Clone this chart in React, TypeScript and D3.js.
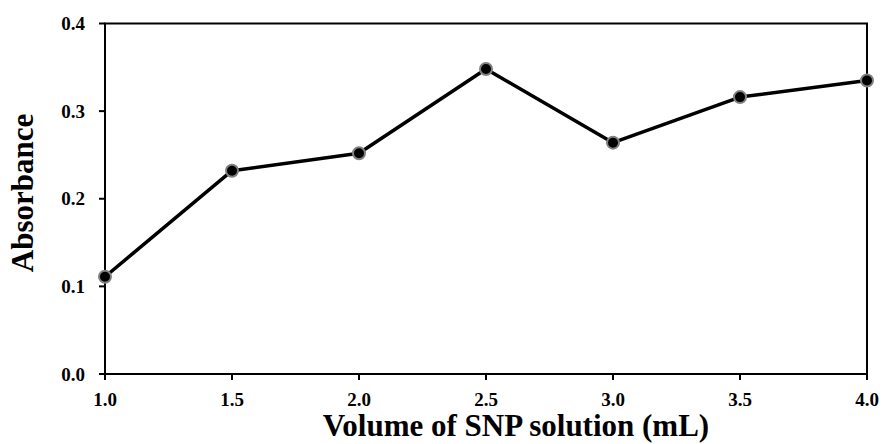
import React from "react";
import * as d3 from "d3";

const volumes = [1.0, 1.5, 2.0, 2.5, 3.0, 3.5, 4.0];
const absorbance = [0.111, 0.232, 0.252, 0.348, 0.264, 0.316, 0.335];
const xTicks = [1.0, 1.5, 2.0, 2.5, 3.0, 3.5, 4.0];
const yTicks = [0.0, 0.1, 0.2, 0.3, 0.4];

const W = 882;
const H = 444;
const M = { left: 105, right: 15, top: 23.5, bottom: 70 };

export default function App() {
  const x = d3.scaleLinear().domain([1, 4]).range([M.left, W - M.right]);
  const y = d3.scaleLinear().domain([0, 0.4]).range([H - M.bottom, M.top]);
  const line = d3
    .line<number>()
    .x((_, i) => x(volumes[i]))
    .y((d) => y(d));
  const font = "'Liberation Serif', 'Times New Roman', serif";
  const x0 = x(1), x1 = x(4), y0 = y(0), y1 = y(0.4);
  return (
    <svg
      width={W}
      height={H}
      style={{ position: "absolute", left: 0, top: 0, background: "#fff" }}
      fontFamily={font}
    >
      <rect x={x0} y={y1} width={x1 - x0} height={y0 - y1} fill="none" stroke="#000" strokeWidth={2} />
      {yTicks.map((t) => (
        <g key={"y" + t}>
          <line x1={x0 - 6} x2={x0} y1={y(t)} y2={y(t)} stroke="#000" strokeWidth={2} />
          <text x={x0 - 20} y={y(t)} dy="0.35em" textAnchor="end" fontSize={19} fontWeight="bold">
            {t.toFixed(1)}
          </text>
        </g>
      ))}
      {xTicks.map((t) => (
        <g key={"x" + t}>
          <line x1={x(t)} x2={x(t)} y1={y0} y2={y0 + 6} stroke="#000" strokeWidth={2} />
          <text x={x(t)} y={y0 + 32} textAnchor="middle" fontSize={19} fontWeight="bold">
            {t.toFixed(1)}
          </text>
        </g>
      ))}
      <path d={line(absorbance) || ""} fill="none" stroke="#000" strokeWidth={3.5} strokeLinejoin="round" />
      {absorbance.map((v, i) => (
        <circle key={i} cx={x(volumes[i])} cy={y(v)} r={6} fill="#000" stroke="#808080" strokeWidth={2} />
      ))}
      <text x={516} y={436} textAnchor="middle" fontSize={31} fontWeight="bold">
        Volume of SNP solution (mL)
      </text>
      <text
        transform={`translate(33, 193) rotate(-90)`}
        textAnchor="middle"
        fontSize={31}
        fontWeight="bold"
      >
        Absorbance
      </text>
    </svg>
  );
}
